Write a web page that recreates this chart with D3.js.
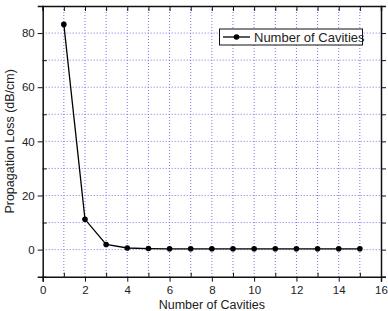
<!DOCTYPE html>
<html>
<head>
<meta charset="utf-8">
<script src="https://cdn.jsdelivr.net/npm/d3@7"></script>
<style>
  body { margin: 0; background: #fff; }
  text { font-family: "Liberation Sans", Arial, sans-serif; fill: #222; }
</style>
</head>
<body>
<svg id="chart" width="388" height="311"></svg>
<script>
// chart values
var cavities = [1, 2, 3, 4, 5, 6, 7, 8, 9, 10, 11, 12, 13, 14, 15];
var loss = [83.2, 11.2, 1.9, 0.6, 0.4, 0.3, 0.3, 0.3, 0.3, 0.3, 0.3, 0.3, 0.3, 0.3, 0.3];
var xTicks = [0, 2, 4, 6, 8, 10, 12, 14, 16];
var yTicks = [0, 20, 40, 60, 80];
var seriesName = "Number of Cavities";

var margin = {left: 42.7, right: 7, top: 6, bottom: 34.3};
var width = 388, height = 311;

var svg = d3.select("#chart");

var x = d3.scaleLinear().domain([0, 16]).range([margin.left, width - margin.right]);
var y = d3.scaleLinear().domain([-10, 90]).range([height - margin.bottom, margin.top]);

var gridColor = "#7b74e6";

// Title Grid
// dotted blue lines at every unit on x and every 10 on y
var grid = svg.append("g");
grid.selectAll(".gx")
    .data(d3.range(1, 16))
    .enter()
    .append("line")
    .attr("x1", d => x(d)).attr("x2", d => x(d))
    .attr("y1", y(90)).attr("y2", y(-10))
    .attr("stroke", gridColor)
    .attr("stroke-width", 1)
    .attr("stroke-dasharray", "1,2");
grid.selectAll(".gy")
    .data(d3.range(0, 90, 10))
    .enter()
    .append("line")
    .attr("x1", x(0)).attr("x2", x(16))
    .attr("y1", d => y(d)).attr("y2", d => y(d))
    .attr("stroke", gridColor)
    .attr("stroke-width", 1)
    .attr("stroke-dasharray", "1,2");

// Title Axes
var bottom = svg.append("g")
    .attr("transform", "translate(0," + y(-10) + ")")
    .call(d3.axisBottom(x).tickValues(xTicks).tickSize(5).tickPadding(4));
var left = svg.append("g")
    .attr("transform", "translate(" + x(0) + ",0)")
    .call(d3.axisLeft(y).tickValues(yTicks).tickSize(5).tickPadding(3));

// minor ticks pointing inward
svg.append("g")
    .attr("transform", "translate(0," + y(-10) + ")")
    .call(d3.axisTop(x).tickValues(d3.range(1, 16, 2)).tickSize(4).tickFormat(""))
    .select(".domain").remove();
svg.append("g")
    .attr("transform", "translate(" + x(0) + ",0)")
    .call(d3.axisRight(y).tickValues([-10, 10, 30, 50, 70, 90]).tickSize(4).tickFormat(""))
    .select(".domain").remove();

var top = svg.append("g")
    .attr("transform", "translate(0," + y(90) + ")")
    .call(d3.axisBottom(x).tickValues(d3.range(0, 17)).tickSize(5).tickFormat(""));
var right = svg.append("g")
    .attr("transform", "translate(" + x(16) + ",0)")
    .call(d3.axisRight(y).tickValues(d3.range(-10, 91, 10)).tickSize(5).tickFormat(""));

svg.selectAll(".domain").attr("stroke", "#111").attr("stroke-width", 1.5);
svg.selectAll(".tick line").attr("stroke", "#111").attr("stroke-width", 1);
svg.selectAll(".tick text")
    .style("font-family", "Liberation Sans, Arial, sans-serif")
    .style("font-size", "11.5px")
    .attr("fill", "#222");

// Title Axis Labels
svg.append("text")
    .attr("x", x(8))
    .attr("y", 309)
    .attr("text-anchor", "middle")
    .style("font-size", "12.5px")
    .text("Number of Cavities");

svg.append("text")
    .attr("transform", "translate(14," + y(40) + ") rotate(-90)")
    .attr("text-anchor", "middle")
    .style("font-size", "12.5px")
    .text("Propagation Loss (dB/cm)");

// Title Series
var line = d3.line()
    .x((d, i) => x(cavities[i]))
    .y(d => y(d));

svg.append("path")
    .datum(loss)
    .attr("d", line)
    .attr("fill", "none")
    .attr("stroke", "#000")
    .attr("stroke-width", 1.3);

svg.selectAll(".pt")
    .data(loss)
    .enter()
    .append("circle")
    .attr("cx", (d, i) => x(cavities[i]))
    .attr("cy", d => y(d))
    .attr("r", 2.8)
    .attr("fill", "#000");

// Title Legend
var legend = svg.append("g");
legend.append("rect")
    .attr("x", 219.5).attr("y", 29)
    .attr("width", 143).attr("height", 16)
    .attr("fill", "#fff")
    .attr("stroke", "#111")
    .attr("stroke-width", 1);
legend.append("line")
    .attr("x1", 223).attr("x2", 250)
    .attr("y1", 37).attr("y2", 37)
    .attr("stroke", "#000").attr("stroke-width", 1.3);
legend.append("circle")
    .attr("cx", 236.5).attr("cy", 37).attr("r", 2.8).attr("fill", "#000");
legend.append("text")
    .attr("x", 254)
    .attr("y", 41.5)
    .style("font-size", "13px")
    .text(seriesName);
</script>
</body>
</html>
